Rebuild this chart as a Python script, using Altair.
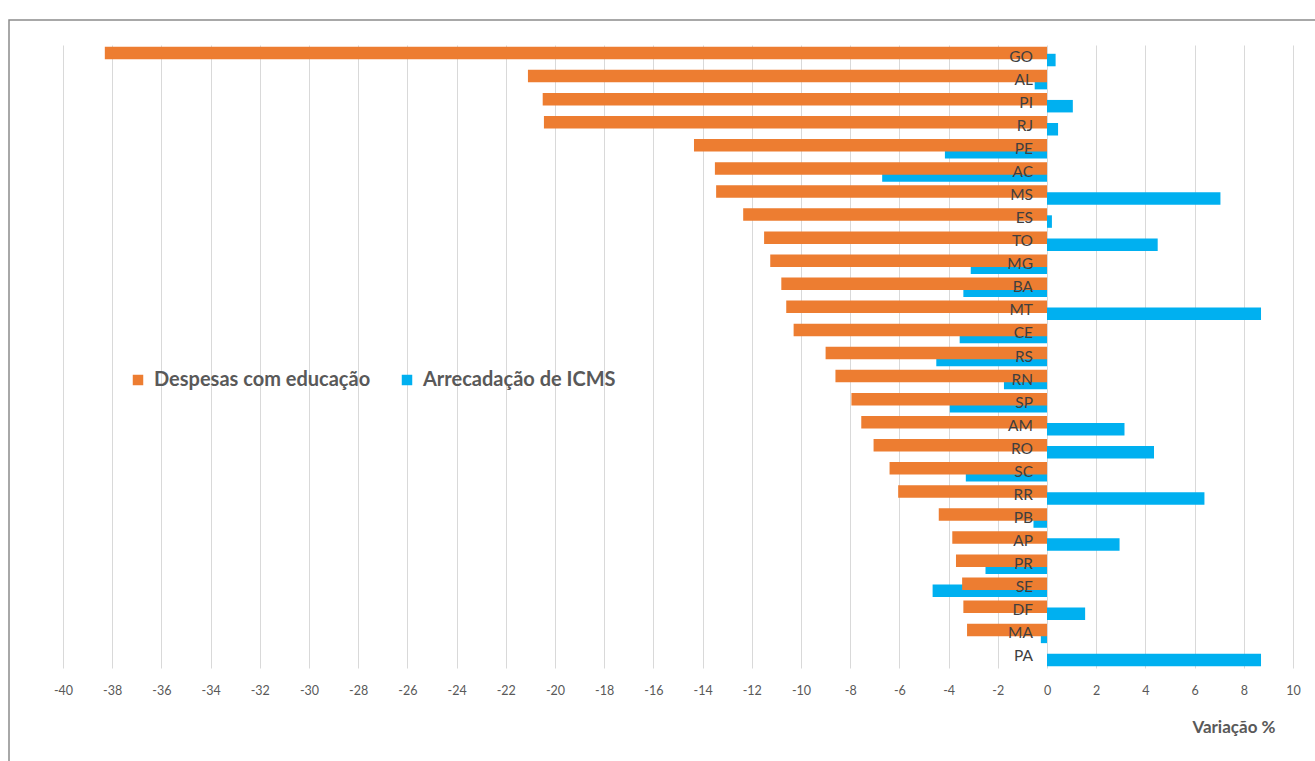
import altair as alt
import pandas as pd

states = ["GO", "AL", "PI", "RJ", "PE", "AC", "MS", "ES", "TO", "MG", "BA", "MT", "CE",
          "RS", "RN", "SP", "AM", "RO", "SC", "RR", "PB", "AP", "PR", "SE", "DF", "MA", "PA"]
despesas = [-38.3, -21.1, -20.5, -20.45, -14.35, -13.5, -13.45, -12.35, -11.5, -11.25,
            -10.8, -10.6, -10.3, -9.0, -8.6, -7.95, -7.55, -7.05, -6.4, -6.05, -4.4,
            -3.85, -3.7, -3.45, -3.4, -3.25, None]
icms = [0.35, -0.5, 1.05, 0.45, -4.15, -6.7, 7.05, 0.2, 4.5, -3.1, -3.4, 8.7, -3.55,
        -4.5, -1.75, -3.95, 3.15, 4.35, -3.3, 6.4, -0.55, 2.95, -2.5, -4.65, 1.55, -0.25, 8.7]
x_ticks = list(range(-40, 11, 2))
series_names = ["Despesas com educação", "Arrecadação de ICMS"]
series_colors = ["#ED7D31", "#00B0F0"]

df_desp = pd.DataFrame({"estado": states, "valor": despesas, "serie": series_names[0]})
df_icms = pd.DataFrame({"estado": states, "valor": icms, "serie": series_names[1]})
df_all = pd.DataFrame({"estado": states, "valor": icms})

W, H = 1230, 623
FONT = "Lato"

color_scale = alt.Scale(domain=series_names, range=series_colors)
legend = alt.Legend(title=None, orient="none", direction="horizontal",
                    legendX=65, legendY=325, symbolType="square",
                    symbolSize=110, symbolStrokeWidth=0,
                    labelFont=FONT, labelFontSize=20,
                    labelFontWeight="bold", labelColor="#595959",
                    labelOffset=6, columnPadding=26, labelLimit=400)
y_enc = alt.Y("estado:N", sort=states, axis=None,
              scale=alt.Scale(paddingInner=0, paddingOuter=0))
x_scale = alt.Scale(domain=[-40, 10], nice=False, zero=False)

grid = alt.Chart(df_all).mark_bar(opacity=0).encode(
    x=alt.X("valor:Q", scale=x_scale,
            axis=alt.Axis(values=x_ticks, grid=True, gridColor="#d9d9d9", gridWidth=1,
                          ticks=False, domain=False, labelPadding=16, labelFlush=False,
                          labelOverlap=False, labelExpr="toString(datum.value)",
                          labelFontSize=12.5, labelColor="#595959", labelFont=FONT,
                          title="Variação %", titleFont=FONT, titleFontSize=17,
                          titleFontWeight="bold", titleColor="#595959",
                          titleAlign="right", titleBaseline="middle",
                          titleX=1212, titleY=59)),
    y=y_enc,
)

blue = alt.Chart(df_icms).mark_bar(height=12.5, yOffset=3.5).encode(
    x=alt.X("valor:Q", scale=x_scale),
    y=y_enc,
    color=alt.Color("serie:N", scale=color_scale, legend=legend),
)

orange = alt.Chart(df_desp).mark_bar(height=12.5, yOffset=-3.5).encode(
    x=alt.X("valor:Q", scale=x_scale),
    y=y_enc,
    color=alt.Color("serie:N", scale=color_scale, legend=legend),
)

labels = alt.Chart(df_all).mark_text(align="right", baseline="middle", dx=-14, font=FONT,
                                     fontSize=15.5, color="#3f3f3f").encode(
    x=alt.datum(0),
    y=y_enc,
    text="estado:N",
)

frame = alt.Chart(alt.Data(values=[{"a": 1}])).mark_rect(
    fill="transparent", stroke="#8c8c8c", strokeWidth=1.5
).encode(
    x=alt.value(-54), x2=alt.value(W + 40),
    y=alt.value(-25), y2=alt.value(H + 200),
)

chart = alt.layer(frame, grid, blue, orange, labels).resolve_scale(color="shared").properties(
    width=W, height=H,
    autosize=alt.AutoSizeParams(type="none"),
    padding={"left": 63, "top": 45, "right": 22, "bottom": 93},
    background="white",
).configure_view(stroke=None)

chart.save("out.html", embed_options={"renderer": "svg", "actions": False})
